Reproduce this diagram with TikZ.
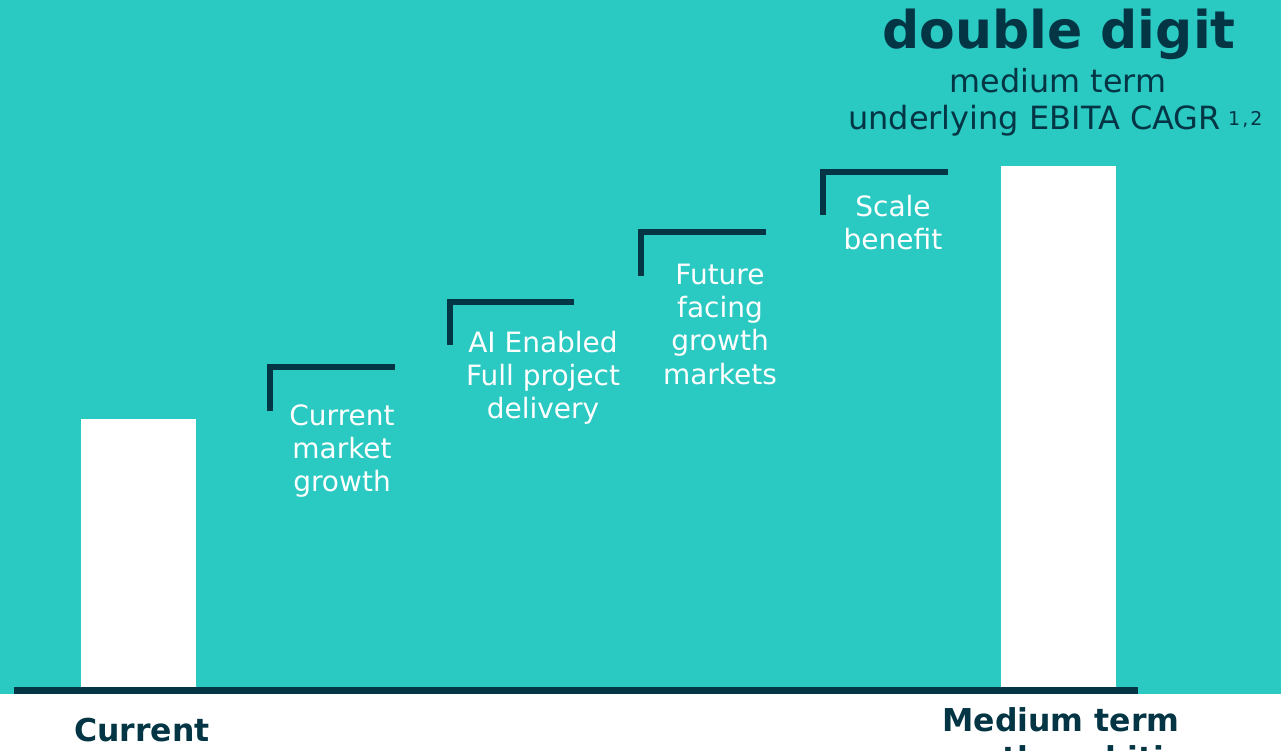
\documentclass[tikz,border=0pt]{standalone}
\usepackage{fontspec}
\setmainfont{DejaVu Sans}
\definecolor{tealbg}{RGB}{42,201,194}
\definecolor{navy}{RGB}{3,53,69}
\tikzset{
  lbl/.style={text=white, align=center, inner sep=0pt, anchor=base,
    font=\fontsize{28}{33.3}\selectfont},
  bracketline/.style={draw=navy, line width=5.5pt, line join=miter, line cap=butt},
  barbox/.style={fill=white, draw=none},
  botlbl/.style={text=navy, align=center, inner sep=0pt, anchor=base,
    font=\bfseries\fontsize{31.5}{38}\selectfont}
}
\newcommand{\bracketat}[4]{% left, top, right, bottom (outer edges)
  \draw[bracketline] (#1+2.75,#4) -- (#1+2.75,#2+2.75) -- (#3,#2+2.75);}
\begin{document}
\begin{tikzpicture}[x=1pt,y=-1pt]
\useasboundingbox (0,0) rectangle (1281,750);
\fill[white] (0,0) rectangle (1281,750);
\fill[tealbg] (0,0) rectangle (1281,694);
% bars
\fill[barbox] (81,419) rectangle (196,687);
\fill[barbox] (1001,166) rectangle (1116,687);
% baseline
\fill[navy] (14,687) rectangle (1138,694);
% brackets
\bracketat{267}{364}{395}{411}
\bracketat{447}{299}{574}{345}
\bracketat{638}{229}{766}{276}
\bracketat{820}{169}{948}{215}
% labels (anchor = baseline of last line)
\node[lbl] (l1) at (342,491.6) {Current\\market\\growth};
\node[lbl] (l2) at (543,418.6) {AI Enabled\\Full project\\delivery};
\node[lbl] (l3) at (720,384) {Future\\facing\\growth\\markets};
\node[lbl] (l4) at (893,249.3) {Scale\\benefit};
% heading
\node[text=navy, inner sep=0pt, anchor=base, font=\bfseries\fontsize{52}{60}\selectfont] (h1) at (1059,48) {double digit};
\node[text=navy, inner sep=0pt, anchor=base, font=\fontsize{31.8}{38}\selectfont] (h2) at (1058,92) {medium term};
\node[text=navy, inner sep=0pt, anchor=base west, font=\fontsize{32}{38}\selectfont] (h3) at (848,129) {underlying EBITA CAGR};
\node[text=navy, inner sep=0pt, anchor=base west, font=\fontsize{19}{22}\selectfont] (h4) at (1228,125) {1\kern2pt,\kern2pt2};
% bottom labels
\node[botlbl] (c1) at (142,741) {Current};
\node[botlbl] (c2) at (1061,769) {Medium term\\growth ambition};
\end{tikzpicture}
\end{document}
